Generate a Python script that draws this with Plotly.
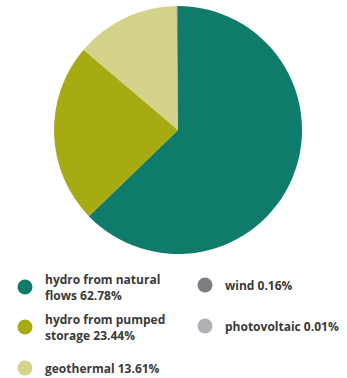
import plotly.graph_objects as go

# Renewable sources and their shares (%)
sources = ["hydro from natural flows", "hydro from pumped storage", "geothermal", "wind", "photovoltaic"]
shares = [62.78, 23.44, 13.61, 0.16, 0.01]
colors = ["#0f7b6b", "#a7ab12", "#d4d38a", "#7d7d82", "#b0b0b5"]

# Legend labels
legend_text = [
    "hydro from natural<br>flows 62.78%",
    "hydro from pumped<br>storage 23.44%",
    "geothermal 13.61%",
    "wind 0.16%",
    "photovoltaic 0.01%",
]

W, H = 347, 378
cx, cy, r = 178, 130, 124

fig = go.Figure(
    go.Pie(
        labels=sources,
        values=shares,
        sort=False,
        direction="clockwise",
        rotation=0,
        marker=dict(colors=colors, line=dict(width=0)),
        textinfo="none",
        showlegend=False,
        domain=dict(
            x=[(cx - r) / W, (cx + r) / W],
            y=[1 - (cy + r) / H, 1 - (cy - r) / H],
        ),
    )
)

# legend markers and labels positioned in pixels
legend_pos = [
    (25, 287),
    (25, 327),
    (25, 368),
    (205, 285),
    (205, 326),
]
dot = 7.5
for (x, y), col, txt in zip(legend_pos, colors, legend_text):
    fig.add_shape(
        type="circle",
        xref="paper", yref="paper",
        x0=(x - dot) / W, x1=(x + dot) / W,
        y0=1 - (y + dot) / H, y1=1 - (y - dot) / H,
        fillcolor=col, line=dict(width=0),
    )
    fig.add_annotation(
        xref="paper", yref="paper",
        x=(x + 18) / W, y=1 - y / H,
        xanchor="left", yanchor="middle",
        text=f"<b>{txt}</b>", align="left",
        showarrow=False,
        font=dict(family="Open Sans", size=12, color="#3a3a3a"),
    )

fig.update_layout(
    width=W, height=H,
    margin=dict(l=0, r=0, t=0, b=0),
    paper_bgcolor="white",
    plot_bgcolor="white",
)

fig.write_html("out.html")
